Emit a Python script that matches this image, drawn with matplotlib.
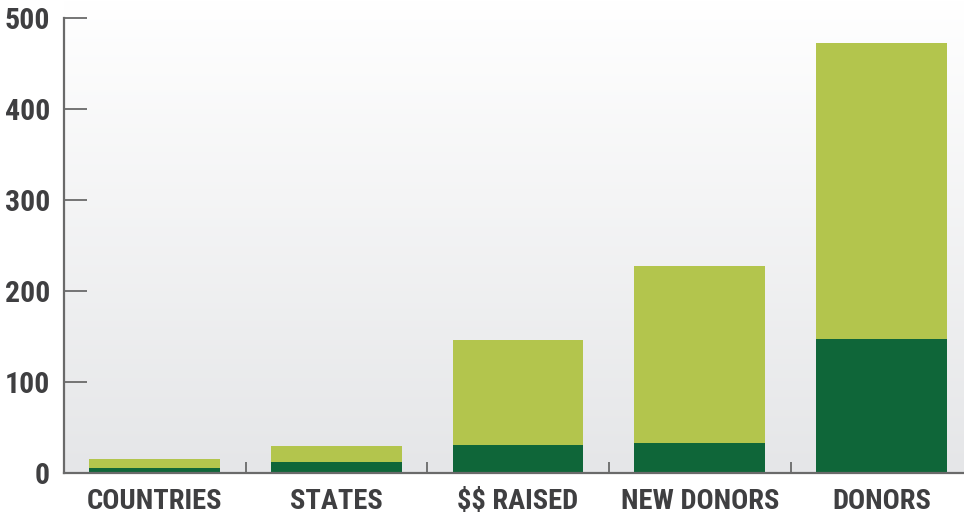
import numpy as np
import matplotlib
matplotlib.use("Agg")
import matplotlib.pyplot as plt
from matplotlib import font_manager
from matplotlib.colors import LinearSegmentedColormap

categories = ["COUNTRIES", "STATES", "$$ RAISED", "NEW DONORS", "DONORS"]
dark_vals = [5, 12, 31, 33, 147]
light_vals = [10, 18, 115, 194, 325]   # stacked on top of dark
y_ticks = [0, 100, 200, 300, 400, 500]

DARK = "#0f6639"
LIGHT = "#b3c54d"
TEXT = "#3f3f41"
AXIS = "#6a6a6a"

names = {f.name for f in font_manager.fontManager.ttflist}
family = "DejaVu Sans"
for cand in ["Roboto Condensed", "Liberation Sans Narrow", "DejaVu Sans"]:
    if cand in names:
        family = cand
        break
plt.rcParams["font.family"] = [family, "DejaVu Sans"]

W, H = 964, 514
fig = plt.figure(figsize=(W / 100, H / 100), dpi=100)

# axes geometry in pixels: x from 63.8 to 972 (clipped), baseline 473, y=500 at 18
x0, x1 = 63.8, 972.3
y_base, y_top = 473, 0
ax = fig.add_axes([x0 / W, (H - y_base) / H, (x1 - x0) / W, (y_base - y_top) / H])
px_per_unit = (473 - 18) / 500
ax.set_ylim(0, (473 - 0) / px_per_unit)
ax.set_xlim(-0.5, 4.5)
ax.patch.set_alpha(0)

# background gradient
grad = np.linspace(0, 1, 256).reshape(-1, 1)
cmap = LinearSegmentedColormap.from_list("bg", ["#ffffff", "#e5e6e8"])
ax.imshow(grad, cmap=cmap, extent=[0, 1, 0, 1], transform=ax.transAxes,
          aspect="auto", origin="upper", zorder=0)

x = np.arange(len(categories))
ax.bar(x, dark_vals, width=0.72, color=DARK, zorder=2)
ax.bar(x, light_vals, width=0.72, bottom=dark_vals, color=LIGHT, zorder=2)

for s in ["top", "right"]:
    ax.spines[s].set_visible(False)
ax.spines["left"].set_bounds(0, 500)
for s in ["left", "bottom"]:
    ax.spines[s].set_color(AXIS)
    ax.spines[s].set_linewidth(1.6)
    ax.spines[s].set_zorder(3)

ax.set_yticks(y_ticks)
ax.set_yticklabels([str(v) for v in y_ticks])
ax.tick_params(axis="y", direction="in", length=16.5, width=1.3, color=AXIS,
               pad=10, labelsize=21.5, labelcolor=TEXT)
for lab in ax.get_yticklabels():
    lab.set_fontweight("bold")
    lab.set_fontstretch("condensed")

ax.set_xticks(x)
ax.set_xticklabels(categories)
ax.tick_params(axis="x", which="major", length=0, pad=11, labelsize=20.5,
               labelcolor=TEXT)
for lab in ax.get_xticklabels():
    lab.set_fontweight("bold")
    lab.set_fontstretch("condensed")
    lab.set_parse_math(False)
ax.set_xticks(x[:-1] + 0.5, minor=True)
ax.tick_params(axis="x", which="minor", direction="in", length=8, width=1.3,
               color=AXIS)

fig.savefig("out.png", dpi=100)
